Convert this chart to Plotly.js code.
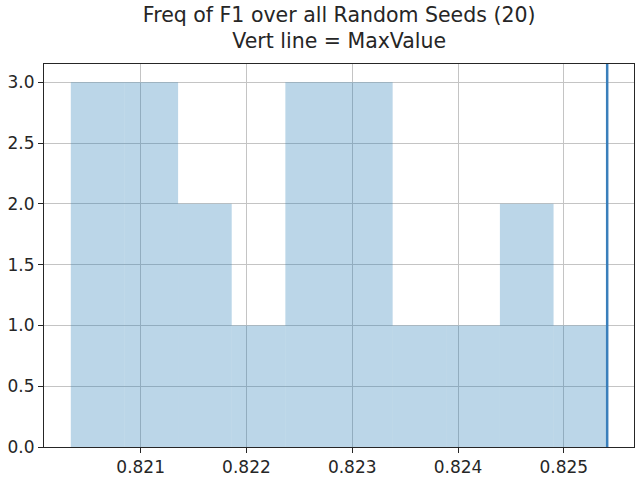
<!DOCTYPE html>
<html>
<head>
<meta charset="utf-8">
<script src="https://cdn.plot.ly/plotly-3.0.1.min.js"></script>
<style>
  html, body { margin: 0; padding: 0; background: #fff; }
  #chart { width: 640px; height: 484px; }
</style>
</head>
<body>
<div id="chart"></div>
<script>
/* histogram of F1 over 20 random seeds, 10 bins */
var minValue = 0.82034;
var maxValue = 0.82541;
var counts = [3, 3, 2, 1, 3, 3, 1, 1, 2, 1];
var xTicks = [0.821, 0.822, 0.823, 0.824, 0.825];
var yTicks = [0, 0.5, 1, 1.5, 2, 2.5, 3];

var binWidth = (maxValue - minValue) / counts.length;
var centers = [];
for (i = 0; i < counts.length; i++) {
    centers.push(minValue + binWidth * (i + 0.5));
}
var pad = (maxValue - minValue) * 0.05;

var data = [
    {
        type: 'bar',
        x: centers,
        y: counts,
        width: binWidth,
        marker: { color: 'rgba(31,119,180,0.3)', line: { width: 0 } },
        hoverinfo: 'x+y'
    }
];

var layout =
{
    width: 640,
    height: 484,
    margin: { l: 44, r: 6, t: 64, b: 37 },
    paper_bgcolor: '#ffffff',
    plot_bgcolor: '#ffffff',
    showlegend: false,
    font: { family: 'DejaVu Sans', size: 17, color: '#262626' },
    title: {
        text: 'Freq of F1 over all Random Seeds (20)<br>Vert line = MaxValue',
        font: { family: 'DejaVu Sans', size: 20.5, color: '#262626' },
        x: 0.53, xanchor: 'center',
        yref: 'container',
        y: 0.955, yanchor: 'top'
    },
    xaxis: {
        range: [minValue - pad, maxValue + pad],
        tickvals: xTicks,
        ticktext: xTicks.map(function (v) { return v.toFixed(3); }),
        ticks: 'outside', ticklen: 5, tickcolor: '#262626',
        showgrid: true, gridcolor: '#c4c4c4', gridwidth: 1,
        showline: true, linecolor: '#262626', linewidth: 1, mirror: true,
        zeroline: false
    },
    yaxis: {
        range: [0, 3.15],
        tickvals: yTicks,
        ticktext: yTicks.map(function (v) { return v.toFixed(1); }),
        ticks: 'outside', ticklen: 5, tickcolor: '#262626',
        showgrid: true, gridcolor: '#c4c4c4', gridwidth: 1,
        showline: true, linecolor: '#262626', linewidth: 1, mirror: true,
        zeroline: false
    },
    shapes: [
        {
            type: 'line', xref: 'x', yref: 'paper',
            x0: maxValue, x1: maxValue, y0: 0, y1: 1,
            line: { color: '#3a7fbb', width: 2.5 }
        }
    ]
};

Plotly.newPlot('chart', data, layout, { displayModeBar: false, staticPlot: true });
</script>
</body>
</html>
